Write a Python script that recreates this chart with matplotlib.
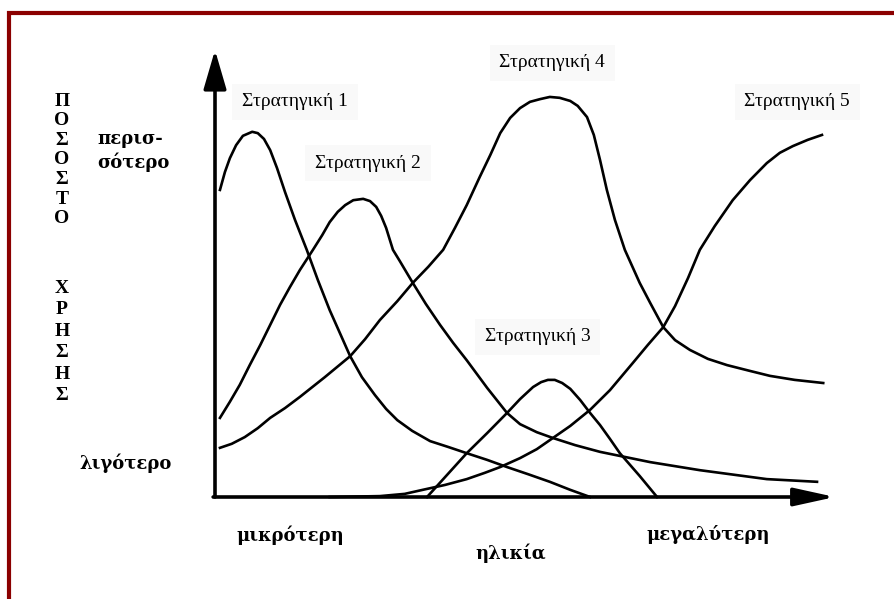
import matplotlib.pyplot as plt
from matplotlib.patches import Rectangle

# curve data (x = age, 0-100; y = usage, 0-100)
s1_x = [0.8, 1.6, 2.4, 3.4, 4.5, 6.0, 6.9, 7.9, 8.9, 10.0, 11.3, 12.9, 14.8, 16.6, 18.5, 20.2,
        21.8, 23.7, 25.8, 27.6, 29.4, 31.8, 34.7, 37.6, 40.6, 43.9, 47.1, 50.5, 54.0, 57.3, 60.5]
s1_y = [68.7, 72.7, 75.8, 78.7, 80.8, 81.7, 81.4, 80.1, 77.6, 73.6, 68.2, 62.0, 55.3, 48.5, 41.8, 36.5,
        31.5, 26.8, 22.8, 19.7, 17.2, 14.8, 12.5, 11.2, 9.8, 8.3, 6.7, 5.1, 3.4, 1.6, 0.0]

s2_x = [0.8, 2.4, 4.0, 5.6, 7.3, 8.9, 10.5, 12.1, 13.7, 15.8, 17.3, 18.5, 19.8, 21.0, 22.3, 23.9,
        25.0, 26.0, 26.8, 27.6, 28.7, 29.8, 31.9, 34.0, 36.3, 38.4, 40.6, 43.9, 47.1, 49.2, 51.9,
        54.5, 58.1, 62.1, 70.2, 78.2, 89.0, 97.1]
s2_y = [17.7, 21.3, 25.1, 29.5, 34.0, 38.5, 43.0, 47.0, 50.8, 55.3, 58.6, 61.5, 63.8, 65.3, 66.4, 66.7,
        66.2, 64.9, 62.9, 60.2, 55.3, 52.8, 47.9, 43.2, 38.5, 34.5, 30.6, 24.4, 18.8, 16.3, 14.5,
        13.2, 11.6, 10.1, 7.8, 6.0, 4.0, 3.4]

s3_x = [34.2, 37.4, 40.6, 43.9, 47.1, 49.2, 51.3, 52.6, 53.7, 54.8, 56.0, 57.3, 58.9, 60.5, 62.1,
        63.7, 65.3, 68.5, 71.3]
s3_y = [0.0, 4.9, 9.8, 14.3, 18.8, 21.9, 24.6, 25.7, 26.2, 26.2, 25.5, 24.2, 21.7, 18.8, 16.1,
        13.0, 9.8, 4.7, 0.0]

s4_x = [0.8, 2.7, 4.8, 6.9, 8.9, 11.3, 13.7, 17.7, 21.8, 24.2, 26.6, 29.4, 31.9, 34.4, 36.8, 38.7,
        40.6, 42.7, 44.4, 46.0, 47.6, 49.2, 50.8, 52.4, 54.0, 55.6, 57.3, 58.5, 60.0, 61.1, 62.1,
        63.2, 64.5, 66.1, 68.5, 70.2, 72.3, 74.2, 76.6, 79.5, 82.6, 86.3, 89.5, 93.5, 98.1]
s4_y = [11.0, 11.9, 13.4, 15.4, 17.7, 19.9, 22.4, 26.8, 31.5, 35.3, 39.6, 43.8, 47.9, 51.5, 55.3, 60.2,
        65.3, 71.6, 76.5, 81.4, 84.8, 87.0, 88.4, 89.0, 89.5, 89.3, 88.6, 87.5, 85.0, 81.0, 75.4,
        68.7, 62.0, 55.3, 47.9, 43.4, 38.0, 35.1, 32.9, 30.9, 29.5, 28.2, 27.1, 26.2, 25.5]

s5_x = [18.5, 26.6, 30.6, 33.5, 37.1, 40.6, 43.5, 46.0, 49.2, 51.9, 54.5, 57.3, 60.5, 63.7, 67.4,
        69.8, 72.3, 74.2, 76.3, 78.2, 80.6, 83.5, 86.3, 89.0, 91.1, 93.2, 95.6, 97.9]
s5_y = [0.0, 0.2, 0.7, 1.6, 2.7, 4.0, 5.4, 6.7, 8.7, 10.7, 13.2, 15.9, 19.5, 23.9, 30.0,
        34.0, 38.0, 42.7, 49.0, 55.3, 60.6, 66.4, 70.9, 74.7, 77.0, 78.5, 79.9, 81.0]

labels = ['Στρατηγική 1', 'Στρατηγική 2', 'Στρατηγική 3', 'Στρατηγική 4', 'Στρατηγική 5']
label_pos = [(12.9, 88.4), (24.7, 74.7), (52.0, 35.8), (54.4, 97.1), (93.9, 88.4)]

W, H = 895, 599
fig = plt.figure(figsize=(W / 100, H / 100), dpi=100)
fig.patch.set_facecolor('white')

# dark red frame (only left and top edges are in view)
fig.add_artist(Rectangle((9.5 / W, -0.1), 1.2, (H - 12.5) / H + 0.1, transform=fig.transFigure,
                         fill=False, edgecolor='#8b0000', lw=3))

ax = fig.add_axes([215 / W, (H - 497) / H, (835 - 215) / W, (497 - 50) / H])
ax.set_xlim(0, 100)
ax.set_ylim(0, 100)
ax.axis('off')

for xs, ys in [(s1_x, s1_y), (s2_x, s2_y), (s3_x, s3_y), (s4_x, s4_y), (s5_x, s5_y)]:
    ax.plot(xs, ys, color='black', lw=1.9, clip_on=False, solid_joinstyle='round')

# axes with arrow heads
ax.annotate('', xy=(0, 1), xytext=(0, 0), xycoords='axes fraction',
            arrowprops=dict(arrowstyle='-|>,head_length=2.4,head_width=0.7', lw=2.6,
                            color='black', shrinkA=0, shrinkB=0, mutation_scale=10))
ax.annotate('', xy=(1, 0), xytext=(-0.003, 0), xycoords='axes fraction',
            arrowprops=dict(arrowstyle='-|>,head_length=2.5,head_width=0.55', lw=2.6,
                            color='black', shrinkA=0, shrinkB=0, mutation_scale=10))

serif = 'Liberation Serif'
for lab, (lx, ly) in zip(labels, label_pos):
    ax.text(lx, ly, lab, fontsize=14, family=serif, ha='center', va='center',
            bbox=dict(boxstyle='square,pad=0.5', facecolor='#f9f9f9', edgecolor='none'))


def px(x, y):
    return x / W, 1 - y / H


vert = dict(family=serif, fontweight='bold', fontsize=14)
bold = dict(family='DejaVu Serif', fontweight='bold', fontsize=13)
fig.text(*px(62, 160), 'Π\nΟ\nΣ\nΟ\nΣ\nΤ\nΟ', ha='center', va='center', linespacing=1.2, **vert)
fig.text(*px(62, 342), 'Χ\nΡ\nΗ\nΣ\nΗ\nΣ', ha='center', va='center', linespacing=1.35, **vert)
fig.text(*px(97, 151), 'περισ-\nσότερο', ha='left', va='center', linespacing=1.3, **bold)
fig.text(*px(126, 463), 'λιγότερο', ha='center', va='center', **bold)
fig.text(*px(290, 535), 'μικρότερη', ha='center', va='center', **bold)
fig.text(*px(511, 553), 'ηλικία', ha='center', va='center', **bold)
fig.text(*px(708, 535), 'μεγαλύτερη', ha='center', va='center', **bold)

fig.savefig('out.png', dpi=100, facecolor='white')
